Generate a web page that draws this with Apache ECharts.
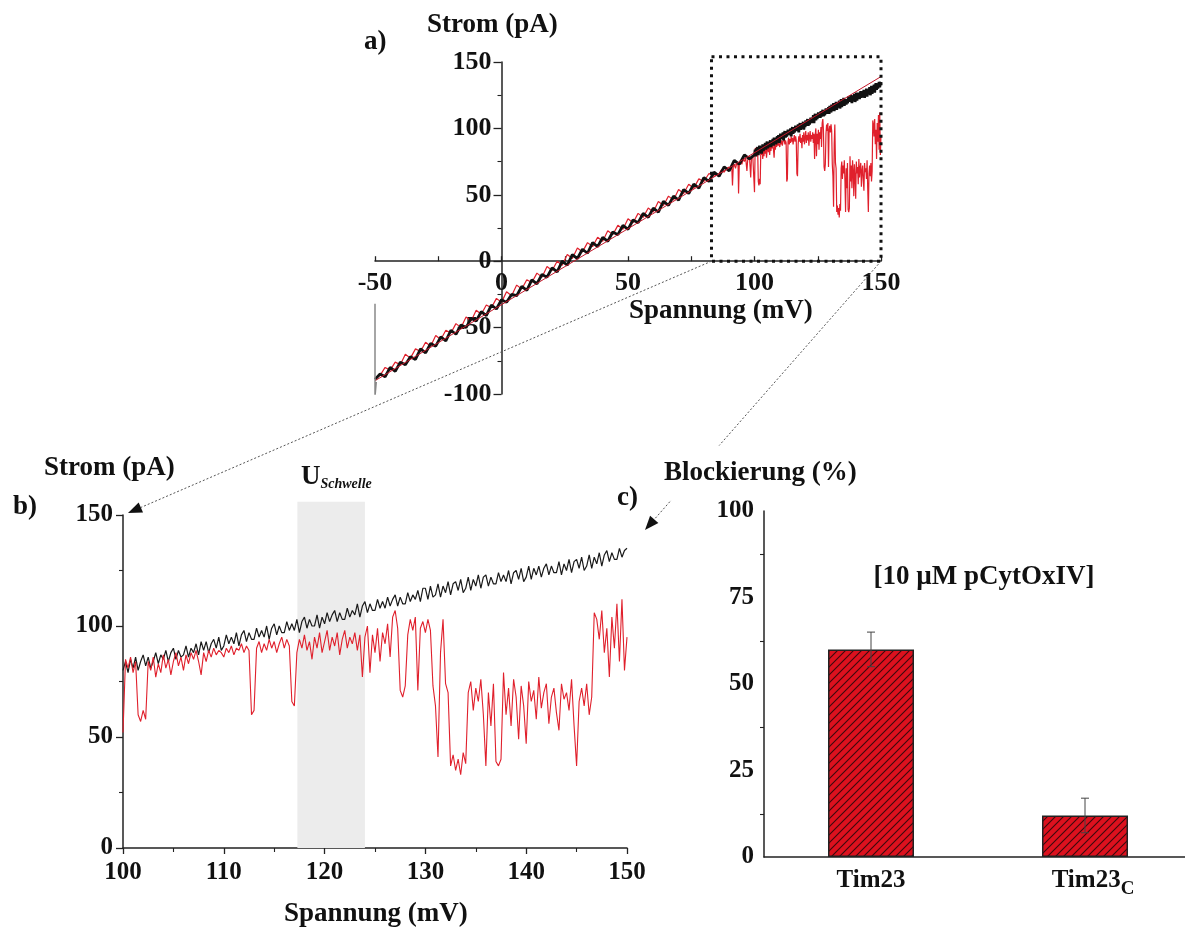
<!DOCTYPE html>
<html><head><meta charset="utf-8">
<script src="https://cdn.jsdelivr.net/npm/echarts@6/dist/echarts.min.js"></script>
<style>html,body{margin:0;padding:0;background:#fff}#c{width:1185px;height:929px}</style>
</head><body><div id="c"></div>
<script>
// ---------- DATA ----------
// Panel a: I-V ramp -50..150 mV (coarse part, 2 mV steps)
const aStart = -50, aStep = 2;
const aBlackLow = [-89,-85,-87,-80,-83,-76,-78,-72,-74,-66,
  -69,-62,-64,-57,-60,-52,-55,-48,-50,-43,
  -45,-38,-41,-33,-36,-29,-31,-25,-26,-19,
  -22,-14,-17,-10,-12,-5,-8,0,-3,5,
  2,9,6,14,11,18,15,22,20,27,
  24,31,29,36,33,40,37,45,42,49,
  46,54,51,58,55,63,60,67,64,71,
  68,76,73,80,77];                       // -50 .. 98 mV
const aRedLow = [-88,-86,-80,-82,-76,-78,-70,-73,-66,-68,
  -61,-64,-56,-59,-52,-54,-47,-50,-42,-45,
  -37,-40,-33,-35,-28,-31,-23,-26,-18,-21,
  -14,-16,-9,-12,-4,-7,0,-3,5,2,
  10,7,14,11,18,15,23,20,27,24,
  32,29,36,33,40,37,45,42,49,46,
  54,51,58,55,62,60,66,64];              // -50 .. 84 mV
const aRedEvents = [[86,66],[87,69],[88,67],[89,70],[90,71],[90.5,69],[91,72],[91.3,57],[91.6,71],
  [92,73],[92.5,70],[93,74],[93.5,72],[93.7,51],[94,74],[94.5,76],[95,73],[95.5,77],[96,75],
  [96.5,78],[97,68],[97.3,76],[98,79],[98.5,63],[98.8,78],[99.3,80],[99.75,79]];
const aFit = [[-50,-90],[150,139]];
const aSpike = [[-50,-32],[-50,-102],[-49.5,-91]];
const aBox = [[83,150,0,154]];           // zoom window drawn in panel a

// Panel b: 100..150 mV, 0.25 mV steps
const bStart = 100, bStep = 0.25;
const bBlack = [80,84,79,85, 81,86,80,84, 87,82,86,81, 84,88,83,87, 85,89,84,88,
  90,85,89,86, 87,91,86,90, 88,92,87,93, 89,93,88,92, 94,90,95,89,
  91,96,92,95, 92,97,91,96, 98,93,97,94, 94,99,95,98, 95,100,94,99,
  101,96,100,97, 97,102,98,101, 98,103,97,102, 104,99,103,100, 100,105,99,104,
  101,106,102,105, 107,102,106,103, 103,108,104,107, 105,110,104,109, 111,106,110,107,
  107,112,108,111, 108,113,109,112, 114,109,113,110, 110,115,111,114, 112,116,111,117,
  117,112,118,113, 114,119,113,118, 115,120,114,119, 120,116,121,115, 117,122,116,121,
  118,123,117,122, 123,118,122,119, 119,124,120,123, 120,125,119,124, 125,121,126,120,
  122,127,121,126, 123,127,122,126, 128,123,127,124, 124,129,123,128, 125,130,124,129,
  130,126,131,125, 127,132,126,131, 128,133,127,132, 134,129,133,130, 130,135,131,134,
  135];
const bRed = [52,85,81,86, 79,84,60,57, 62,58,84,80, 86,77,83,79, 87,81,85,78,
  84,88,82,86, 80,87,83,88, 85,89,84,78, 88,84,89,86, 90,87,89,88,
  86,90,88,91, 87,90,89,92, 88,91,89,60, 62,90,93,88, 92,89,94,90,
  93,88,92,95, 90,94,91,66, 64,88,94,90, 96,89,93,85, 95,90,97,88,
  93,98,89,95, 91,97,87,94, 98,90,95,92, 97,89,96,77, 95,100,79,96,
  88,99,84,97, 92,101,86,104, 107,99,71,68, 73,96,103,98, 104,71,99,102,
  97,103,98,73, 64,41,88,103, 74,70,37,42, 35,40,33,43, 38,70,75,62,
  72,66,76,60, 37,70,55,74, 39,37,40,79, 60,72,55,76, 68,49,73,64,
  47,75,66,71, 58,77,63,70, 74,56,68,72, 61,53,74,67, 70,62,76,55,
  37,66,72,64, 74,60,68,106, 103,94,107,88, 99,77,104,90, 110,84,112,80,
  95];
const bBand = [[117.3,124,0,156]];        // U_Schwelle band

// Panel c: blocking (%)
const cCats = ['Tim23','Tim23C'];
const cVal = [60, 12];
const cErr = [5, 5];

// ---------- BUILD ----------
const FONT = '"Liberation Serif","Times New Roman",serif';
const toPairs = (arr, s, st) => arr.map((v,i)=>[s+i*st, v]);
const bBlackPts = toPairs(bBlack, bStart, bStep);
const bRedPts = toPairs(bRed, bStart, bStep);
const aBlackPts = toPairs(aBlackLow, aStart, aStep).concat(bBlackPts);
const aRedPts = toPairs(aRedLow, aStart, aStep).concat(aRedEvents, bRedPts);

function hatch(){
  const s=8, c=document.createElement('canvas'); c.width=s; c.height=s;
  const g=c.getContext('2d'); g.fillStyle='#dc111e'; g.fillRect(0,0,s,s);
  g.strokeStyle='#3a0a0e'; g.lineWidth=1.1; g.beginPath();
  g.moveTo(0,s); g.lineTo(s,0);
  g.moveTo(-s/2,s/2); g.lineTo(s/2,-s/2);
  g.moveTo(s/2,s*1.5); g.lineTo(s*1.5,s/2);
  g.stroke(); return c;
}
const AX = '#222';
const lbl = (size, margin) => ({fontFamily:FONT, fontWeight:'bold', fontSize:size, color:'#111', margin});
function valAxis(o){
  return Object.assign({type:'value', splitLine:{show:false},
    axisLine:{show:true, onZero:false, lineStyle:{color:AX, width:1.5}},
    axisTick:{show:true, lineStyle:{color:AX, width:1.3}},
    minorTick:{show:true, splitNumber:2, length:4, lineStyle:{color:AX, width:1.1}}}, o);
}
const rectRender = (style) => (params, api) => {
  const p1 = api.coord([api.value(0), api.value(2)]);
  const p2 = api.coord([api.value(1), api.value(3)]);
  return {type:'rect', silent:true, shape:{x:p1[0], y:p2[1], width:p2[0]-p1[0], height:p1[1]-p2[1]}, style};
};
const richBase = {fontFamily:FONT, fontWeight:'bold', color:'#111', verticalAlign:'bottom'};

const chart = echarts.init(document.getElementById('c'), null, {renderer:'canvas'});
chart.setOption({
  animation:false,
  backgroundColor:'#fff',
  grid:[
    {left:375, top:62, width:506, height:332, outerBoundsMode:'none', containLabel:false},
    {left:123, top:515, width:504, height:333, outerBoundsMode:'none', containLabel:false},
    {left:764, top:511, width:428, height:346, outerBoundsMode:'none', containLabel:false}
  ],
  xAxis:[
    valAxis({gridIndex:0, min:-50, max:150, interval:50,
      axisLine:{onZero:false, lineStyle:{color:AX, width:1.5}},
      axisTick:{inside:true, length:5, lineStyle:{color:AX, width:1.3}},
      minorTick:{show:true, splitNumber:2, length:5, lineStyle:{color:AX, width:1.2}},
      axisLabel:lbl(26, 9)}),
    valAxis({gridIndex:1, min:100, max:150, interval:10,
      axisTick:{length:6, lineStyle:{color:AX, width:1.3}},
      axisLabel:lbl(25, 12)}),
    {type:'category', gridIndex:2, data:cCats,
      axisLine:{lineStyle:{color:AX, width:1.5}},
      axisTick:{alignWithLabel:true, length:5, lineStyle:{color:AX, width:1.3}},
      axisLabel:{margin:14, formatter:v => v==='Tim23C' ? '{a2|Tim23}{b|C}' : '{a|'+v+'}',
        rich:{
          a:Object.assign({fontSize:25, lineHeight:28, padding:[0,0,6,0]}, richBase),
          a2:Object.assign({fontSize:25, lineHeight:28, padding:[0,0,6,16]}, richBase),
          b:Object.assign({fontSize:19}, richBase)
        }}},
    {type:'category', gridIndex:2, data:cCats,
      axisLine:{show:false}, axisLabel:{show:false},
      axisTick:{alignWithLabel:false, length:4, lineStyle:{color:AX, width:1.3}}}
  ],
  yAxis:[
    valAxis({gridIndex:0, min:-100, max:150, interval:50,
      axisTick:{length:8, lineStyle:{color:AX, width:1.3}}, axisLabel:lbl(26, 10)}),
    valAxis({gridIndex:1, min:0, max:150, interval:50,
      axisTick:{length:7, lineStyle:{color:AX, width:1.3}}, axisLabel:lbl(25, 10)}),
    valAxis({gridIndex:2, min:0, max:100, interval:25,
      axisTick:{length:7, lineStyle:{color:AX, width:1.3}}, axisLabel:lbl(25, 10)})
  ],
  series:[
    // panel a
    {type:'line', xAxisIndex:0, yAxisIndex:0, data:aRedPts, symbol:'none', z:2,
      lineStyle:{color:'#e0202c', width:1.2}},
    {type:'line', xAxisIndex:0, yAxisIndex:0, data:aBlackPts, symbol:'none', z:3,
      lineStyle:{color:'#111', width:2.8}},
    {type:'line', xAxisIndex:0, yAxisIndex:0, data:aFit, symbol:'none', z:4,
      lineStyle:{color:'#c4182a', width:1}},
    {type:'line', xAxisIndex:0, yAxisIndex:0, data:aSpike, symbol:'none', z:4,
      lineStyle:{color:'#888', width:1.5}},
    {type:'custom', xAxisIndex:0, yAxisIndex:0, data:aBox, clip:false, z:5,
      encode:{x:[0,1], y:[2,3]},
      renderItem:rectRender({fill:'none', stroke:'#111', lineWidth:3, lineDash:[3,4.5]})},
    // panel b
    {type:'custom', xAxisIndex:1, yAxisIndex:1, data:bBand, clip:false, z:1,
      encode:{x:[0,1], y:[2,3]},
      renderItem:rectRender({fill:'#ececec'})},
    {type:'line', xAxisIndex:1, yAxisIndex:1, data:bBlackPts, symbol:'none', z:2,
      lineStyle:{color:'#1a1a1a', width:1.2}},
    {type:'line', xAxisIndex:1, yAxisIndex:1, data:bRedPts, symbol:'none', z:3,
      lineStyle:{color:'#e0202c', width:1.1}},
    // panel c
    {type:'bar', xAxisIndex:2, yAxisIndex:2, data:cVal, barWidth:86, z:2,
      itemStyle:{color:{image:hatch(), repeat:'repeat'}, borderColor:'#222', borderWidth:1.5}},
    {type:'custom', xAxisIndex:2, yAxisIndex:2, z:5,
      data:cVal.map((v,i)=>[i, v-cErr[i], v+cErr[i]]),
      encode:{x:0, y:[1,2]},
      renderItem:(p, api)=>{
        const x = api.value(0);
        const lo = api.coord([x, api.value(1)]), hi = api.coord([x, api.value(2)]);
        const w = 4, st = {stroke:'#444', lineWidth:1};
        return {type:'group', children:[
          {type:'line', shape:{x1:lo[0], y1:lo[1], x2:hi[0], y2:hi[1]}, style:st},
          {type:'line', shape:{x1:lo[0]-w, y1:lo[1], x2:lo[0]+w, y2:lo[1]}, style:st},
          {type:'line', shape:{x1:hi[0]-w, y1:hi[1], x2:hi[0]+w, y2:hi[1]}, style:st}
        ]};
      }}
  ]
});

// Panel a axes cross at the origin: shift them onto x=0 / y=0
const pO = chart.convertToPixel({gridIndex:0}, [0, 0]);
const pMin = chart.convertToPixel({gridIndex:0}, [-50, -100]);
chart.setOption({
  xAxis:[{offset:-(pMin[1]-pO[1])}, {}, {}, {}],
  yAxis:[{offset:-(pO[0]-pMin[0])}, {}, {}]
});

// ---------- ANNOTATIONS ----------
function txt(text, x, y, size, align, extra){
  const st = Object.assign({text, fill:'#111', font:`bold ${size}px ${FONT}`,
    textAlign:align||'left', align:align||'left', textVerticalAlign:'middle', verticalAlign:'middle'}, extra||{});
  return {type:'text', x, y, z:100, silent:true, style:st};
}
function arrowLine(from, to){
  const dx=to[0]-from[0], dy=to[1]-from[1], L=Math.hypot(dx,dy), ux=dx/L, uy=dy/L;
  const len=14, half=5.5, bx=to[0]-ux*len, by=to[1]-uy*len;
  return [
    {type:'line', z:90, silent:true, shape:{x1:from[0], y1:from[1], x2:bx, y2:by},
      style:{stroke:'#555', lineWidth:1, lineDash:[2,2]}},
    {type:'polygon', z:90, silent:true, shape:{points:[[to[0],to[1]],[bx-uy*half, by+ux*half],[bx+uy*half, by-ux*half]]},
      style:{fill:'#111'}}
  ];
}
const boxBL = chart.convertToPixel({gridIndex:0}, [aBox[0][0], aBox[0][2]]);
const boxBR = chart.convertToPixel({gridIndex:0}, [aBox[0][1], aBox[0][2]]);
const bTL = chart.convertToPixel({gridIndex:1}, [bStart, 150]);
const bTR = chart.convertToPixel({gridIndex:1}, [150, 150]);
const tipB = [bTL[0]+5, bTL[1]-2];
const tipC = [bTR[0]+18, bTR[1]+15];

const graphics = [].concat(
  arrowLine(boxBL, tipB),
  arrowLine(boxBR, tipC),
  [
    txt('a)', 364, 42, 27),
    txt('Strom (pA)', 427, 25, 27),
    txt('Spannung (mV)', 629, 311, 27),
    txt('b)', 13, 507, 27),
    txt('Strom (pA)', 44, 468, 27),
    txt('Spannung (mV)', 284, 914, 27),
    {type:'text', x:301, y:491, z:100, silent:true, style:{
      text:'{u|U}{s|Schwelle}', textAlign:'left', align:'left', textVerticalAlign:'bottom', verticalAlign:'bottom',
      rich:{u:{font:`bold 27px ${FONT}`, fill:'#111', lineHeight:28, verticalAlign:'bottom'},
            s:{font:`italic bold 14px ${FONT}`, fill:'#111', lineHeight:10, verticalAlign:'bottom'}}}},
    txt('c)', 617, 498, 27),
    txt('Blockierung (%)', 662, 473, 27, 'left', {backgroundColor:'#fff', padding:[14,2,14,2]}),
    txt('[10 µM pCytOxIV]', 984, 577, 27, 'center')
  ]
);
chart.setOption({graphic:graphics});
</script>
</body></html>
